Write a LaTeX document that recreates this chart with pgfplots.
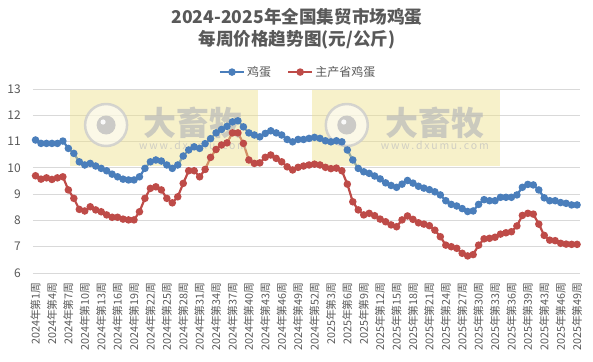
\documentclass[border=0pt]{standalone}
\usepackage{fontspec}
\setmainfont{Noto Sans CJK SC}
\usepackage{pgfplots}
\usepackage{pgfplotstable}
\pgfplotsset{compat=1.18}
\definecolor{eggblue}{HTML}{4A7EBB}
\definecolor{eggred}{HTML}{BE4B48}
\definecolor{txtgray}{HTML}{595959}
\definecolor{gridgray}{HTML}{D9D9D9}
\definecolor{wmyellow}{HTML}{EDE08A}
\pgfplotstableread{
x egg main
0 11.06 9.70
1 10.93 9.57
2 10.93 9.62
3 10.93 9.56
4 10.93 9.62
5 11.02 9.66
6 10.74 9.16
7 10.55 8.84
8 10.23 8.42
9 10.11 8.36
10 10.17 8.52
11 10.07 8.40
12 9.98 8.33
13 9.89 8.21
14 9.76 8.12
15 9.66 8.12
16 9.57 8.05
17 9.54 8.02
18 9.54 8.02
19 9.66 8.33
20 9.98 8.84
21 10.23 9.22
22 10.30 9.28
23 10.26 9.16
24 10.11 8.84
25 9.98 8.67
26 10.11 8.90
27 10.45 9.41
28 10.68 9.89
29 10.80 9.89
30 10.74 9.66
31 10.92 9.94
32 11.11 10.40
33 11.33 10.70
34 11.46 10.87
35 11.58 10.95
36 11.75 11.33
37 11.79 11.33
38 11.56 10.93
39 11.33 10.30
40 11.25 10.17
41 11.18 10.19
42 11.31 10.40
43 11.41 10.49
44 11.33 10.36
45 11.25 10.23
46 11.08 10.04
47 10.99 9.92
48 11.08 10.02
49 11.08 10.07
50 11.12 10.11
51 11.16 10.14
52 11.12 10.11
53 11.03 10.02
54 10.99 9.97
55 11.03 9.99
56 10.99 9.89
57 10.68 9.38
58 10.30 8.71
59 9.98 8.40
60 9.85 8.21
61 9.79 8.27
62 9.69 8.18
63 9.58 8.05
64 9.43 7.95
65 9.33 7.83
66 9.26 7.76
67 9.38 8.02
68 9.52 8.17
69 9.42 8.04
70 9.30 7.91
71 9.23 7.86
72 9.17 7.80
73 9.09 7.63
74 8.97 7.38
75 8.75 7.06
76 8.61 7.00
77 8.55 6.94
78 8.45 6.75
79 8.34 6.65
80 8.36 6.70
81 8.61 7.06
82 8.79 7.30
83 8.75 7.32
84 8.75 7.36
85 8.88 7.48
86 8.88 7.53
87 8.88 7.57
88 8.97 7.79
89 9.26 8.19
90 9.37 8.27
91 9.35 8.24
92 9.16 7.86
93 8.86 7.43
94 8.75 7.25
95 8.75 7.23
96 8.68 7.13
97 8.65 7.10
98 8.59 7.09
99 8.59 7.09
}\data
\begin{document}
\begin{tikzpicture}
\useasboundingbox (0,0) rectangle (593pt,361pt);
\node[font=\fontsize{17.6}{17.6}\selectfont\bfseries, text=txtgray] at (297pt,344pt) {2024-2025年全国集贸市场鸡蛋};
\node[font=\fontsize{17.6}{17.6}\selectfont\bfseries, text=txtgray] at (297pt,321pt) {每周价格趋势图(元/公斤)};
\begin{axis}[
  at={(32.8pt,88pt)}, anchor=south west,
  scale only axis, width=547pt, height=184pt,
  xmin=-0.5, xmax=99.5, ymin=6, ymax=13,
  ytick={6,7,...,13},
  xtick={0,3,...,99},
  xticklabels={2024年第1周,2024年第4周,2024年第7周,2024年第10周,2024年第13周,2024年第16周,2024年第19周,2024年第22周,2024年第25周,2024年第28周,2024年第31周,2024年第34周,2024年第37周,2024年第40周,2024年第43周,2024年第46周,2024年第49周,2024年第52周,2025年第3周,2025年第6周,2025年第9周,2025年第12周,2025年第15周,2025年第18周,2025年第21周,2025年第24周,2025年第27周,2025年第30周,2025年第33周,2025年第36周,2025年第39周,2025年第43周,2025年第46周,2025年第49周},
  axis x line*=bottom, axis y line*=left,
  x axis line style={draw=gridgray, line width=0.75pt},
  y axis line style={draw=none},
  major tick length=0pt,
  ymajorgrids, grid style={gridgray, line width=0.75pt},
  tick label style={text=txtgray},
  /pgf/number format/assume math mode=true,
  yticklabel style={font=\fontsize{12}{12}\selectfont},
  yticklabel shift=8.5pt,
  xticklabel style={font=\fontsize{10.8}{10.8}\selectfont, rotate=90, anchor=east},
  xticklabel shift=6pt,
  legend style={at={(0.485,1.092)}, anchor=center, draw=none, fill=none,
    legend columns=2, font=\fontsize{12}{12}\selectfont, text=txtgray,
    /tikz/every even column/.append style={column sep=14pt}},
  legend image code/.code={\draw[#1, mark repeat=2, mark phase=2] plot coordinates {(0pt,0pt) (12pt,0pt) (24pt,0pt)};},
]
\addplot[color=eggblue, line width=2.2pt, mark=*, mark size=2.6pt, mark options={solid, fill=eggblue}] table[x=x, y=egg] {\data};
\addlegendentry{鸡蛋}
\addplot[color=eggred, line width=2.2pt, mark=*, mark size=2.6pt, mark options={solid, fill=eggred}] table[x=x, y=main] {\data};
\addlegendentry{主产省鸡蛋}
% watermark 1
\fill[wmyellow, fill opacity=0.45] (axis cs:6.3,12.96) rectangle (axis cs:40.7,10.07);
\fill[white, fill opacity=0.55] (axis cs:12.9,11.63) circle[radius=21pt];
\draw[gray!40, line width=2.5pt, draw opacity=0.8] (axis cs:12.9,11.63) circle[radius=21pt];
\fill[gray!50, fill opacity=0.8] (axis cs:12.9,11.63) circle[radius=9.5pt];
\fill[white, fill opacity=0.9] (axis cs:12.9,11.63) ++(-3pt,3pt) circle[radius=2.6pt];
\node[text=gray!55, text opacity=0.7, font=\fontsize{33}{33}\selectfont\bfseries] at (axis cs:28.8,11.72) {大畜牧};
\node[text=gray!50, text opacity=0.7, font=\fontsize{10.5}{10.5}\selectfont] at (axis cs:28.8,10.87) {w\,w\,w\,.\,d\,x\,u\,m\,u\,.\,c\,o\,m};
% watermark 2
\fill[wmyellow, fill opacity=0.45] (axis cs:50.5,12.96) rectangle (axis cs:84.9,10.07);
\fill[white, fill opacity=0.55] (axis cs:56.9,11.63) circle[radius=21pt];
\draw[gray!40, line width=2.5pt, draw opacity=0.8] (axis cs:56.9,11.63) circle[radius=21pt];
\fill[gray!50, fill opacity=0.8] (axis cs:56.9,11.63) circle[radius=9.5pt];
\fill[white, fill opacity=0.9] (axis cs:56.9,11.63) ++(-3pt,3pt) circle[radius=2.6pt];
\node[text=gray!55, text opacity=0.7, font=\fontsize{33}{33}\selectfont\bfseries] at (axis cs:73.0,11.72) {大畜牧};
\node[text=gray!50, text opacity=0.7, font=\fontsize{10.5}{10.5}\selectfont] at (axis cs:73.0,10.87) {w\,w\,w\,.\,d\,x\,u\,m\,u\,.\,c\,o\,m};
\end{axis}
\end{tikzpicture}
\end{document}
